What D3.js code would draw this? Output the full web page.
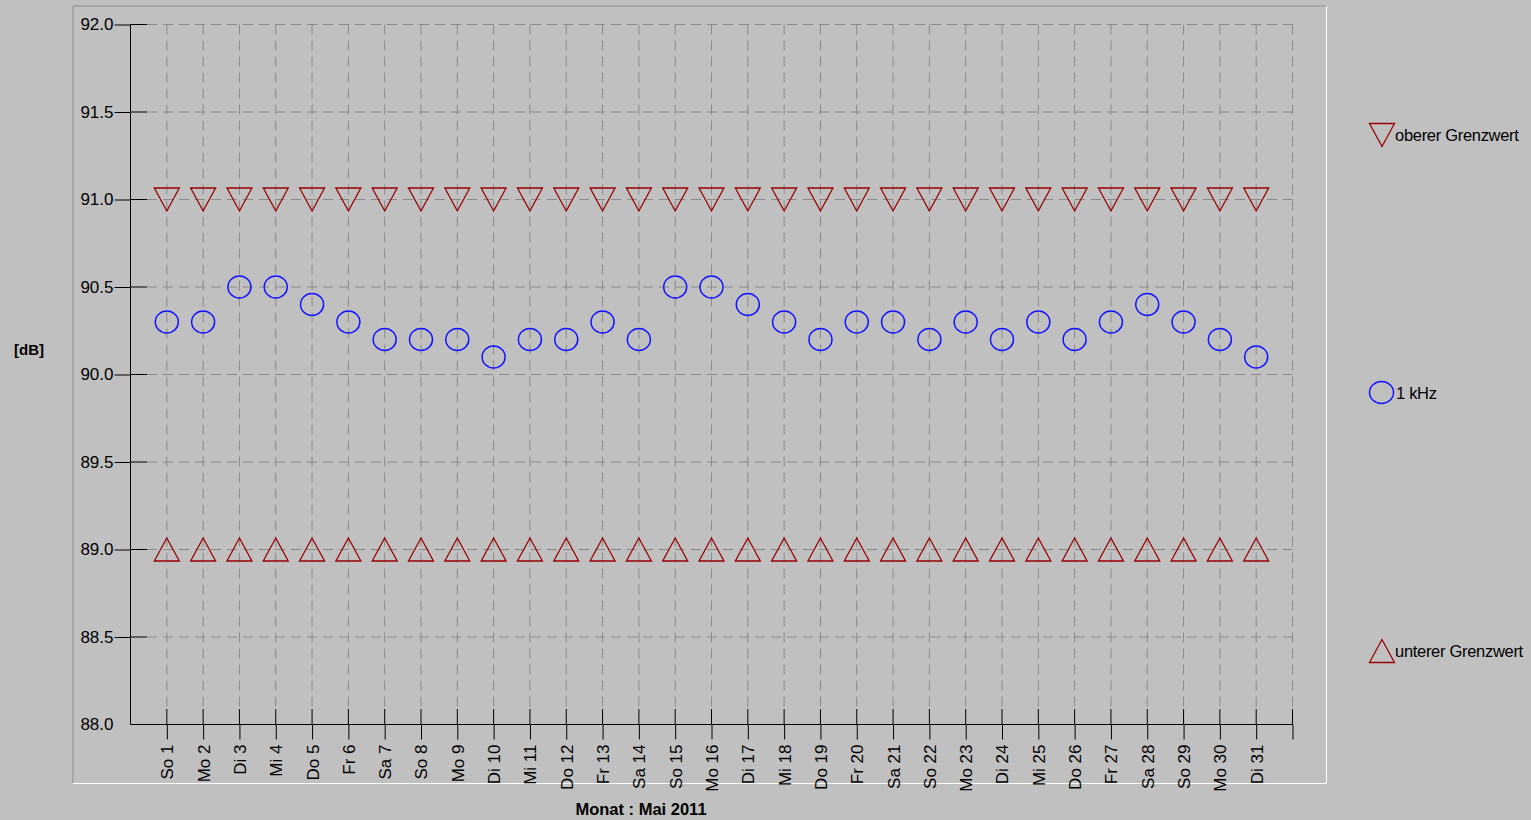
<!DOCTYPE html>
<html>
<head>
<meta charset="utf-8">
<script src="https://cdn.jsdelivr.net/npm/d3@7"></script>
<style>
  body { margin: 0; background: #c0c0c0; }
  svg { display: block; font-family: "Liberation Sans", Arial, sans-serif; }
</style>
</head>
<body>
<div id="chart"></div>
<script>
var width = 1531;
var height = 820;

// data
var days = d3.range(1, 32);
var dayLabels = ["So 1", "Mo 2", "Di 3", "Mi 4", "Do 5", "Fr 6", "Sa 7", "So 8", "Mo 9", "Di 10",
  "Mi 11", "Do 12", "Fr 13", "Sa 14", "So 15", "Mo 16", "Di 17", "Mi 18", "Do 19", "Fr 20",
  "Sa 21", "So 22", "Mo 23", "Di 24", "Mi 25", "Do 26", "Fr 27", "Sa 28", "So 29", "Mo 30", "Di 31"];
var kHz1 = [90.3, 90.3, 90.5, 90.5, 90.4, 90.3, 90.2, 90.2, 90.2, 90.1,
  90.2, 90.2, 90.3, 90.2, 90.5, 90.5, 90.4, 90.3, 90.2, 90.3,
  90.3, 90.2, 90.3, 90.2, 90.3, 90.2, 90.3, 90.4, 90.3, 90.2, 90.1];
var obererGrenzwert = days.map(function () { return 91.0; });
var untererGrenzwert = days.map(function () { return 89.0; });
var yTicks = [88.0, 88.5, 89.0, 89.5, 90.0, 90.5, 91.0, 91.5, 92.0];
var legendItems = ["oberer Grenzwert", "1 kHz", "unterer Grenzwert"];

var svg = d3.select("#chart").append("svg")
  .attr("width", width)
  .attr("height", height);

// 3d frame
var frame = svg.append("g");
frame.append("line").attr("x1", 73).attr("y1", 6).attr("x2", 1326).attr("y2", 6).attr("stroke", "#8c8c8c");
frame.append("line").attr("x1", 73).attr("y1", 6).attr("x2", 73).attr("y2", 783).attr("stroke", "#8c8c8c");
frame.append("line").attr("x1", 73).attr("y1", 783.5).attr("x2", 1326.5).attr("y2", 783.5).attr("stroke", "#ffffff");
frame.append("line").attr("x1", 1326.5).attr("y1", 6).attr("x2", 1326.5).attr("y2", 783.5).attr("stroke", "#ffffff");

var x = d3.scaleLinear().domain([0, 32]).range([130.5, 1292.5]);
var y = d3.scaleLinear().domain([88, 92]).range([724.5, 24.5]);

var gridColor = "#8a8a8a";

// horizontal grid
svg.append("g").selectAll("line")
  .data(yTicks.slice(1))
  .enter().append("line")
  .attr("x1", 147).attr("x2", x(32))
  .attr("y1", function (d) { return y(d); })
  .attr("y2", function (d) { return y(d); })
  .attr("stroke", gridColor)
  .attr("stroke-dasharray", "10,6");

// vertical grid
svg.append("g").selectAll("line")
  .data(d3.range(1, 33))
  .enter().append("line")
  .attr("x1", function (d) { return x(d); })
  .attr("x2", function (d) { return x(d); })
  .attr("y1", y(92)).attr("y2", 709)
  .attr("stroke", gridColor)
  .attr("stroke-dasharray", "10,6");

// y axis
var axisY = d3.axisLeft(y).tickValues(yTicks).tickSize(16).tickPadding(1)
  .tickFormat(d3.format(".1f"));
var gy = svg.append("g").attr("transform", "translate(130.5,0)").call(axisY);
gy.select(".domain").remove();
gy.selectAll("text").attr("font-size", 17).attr("fill", "#000").attr("font-family", "Liberation Sans, Arial, sans-serif");
gy.selectAll("line").attr("stroke", "#000");
gy.selectAll(".tick").filter(function (d) { return d === 88; }).select("line").remove();
// inner part of the y ticks
svg.append("g").selectAll("line")
  .data(yTicks.slice(1))
  .enter().append("line")
  .attr("x1", 130.5).attr("x2", 147)
  .attr("y1", function (d) { return y(d); })
  .attr("y2", function (d) { return y(d); })
  .attr("stroke", "#000");

svg.append("line")
  .attr("x1", 130.5).attr("x2", 130.5)
  .attr("y1", y(92)).attr("y2", y(88))
  .attr("stroke", "#000");

// x axis
var axisX = d3.axisBottom(x).tickValues(d3.range(1, 33)).tickSize(15)
  .tickFormat(function (d) { return d <= 31 ? dayLabels[d - 1] : ""; });
var gx = svg.append("g").attr("transform", "translate(0," + y(88) + ")").call(axisX);
gx.select(".domain").remove();
gx.selectAll("line").attr("stroke", "#000");
gx.selectAll("text")
  .attr("font-size", 17).attr("fill", "#000").attr("font-family", "Liberation Sans, Arial, sans-serif")
  .attr("transform", "rotate(-90)")
  .attr("text-anchor", "end")
  .attr("x", -20).attr("y", 0).attr("dy", "0.35em");
// upper part of the x ticks
svg.append("g").selectAll("line")
  .data(d3.range(1, 33))
  .enter().append("line")
  .attr("x1", function (d) { return x(d); })
  .attr("x2", function (d) { return x(d); })
  .attr("y1", 709).attr("y2", y(88))
  .attr("stroke", "#000");
svg.append("line")
  .attr("x1", 130.5).attr("x2", x(32))
  .attr("y1", y(88)).attr("y2", y(88))
  .attr("stroke", "#000");

// markers
var red = "#990000";
var blue = "#1414ff";
var hw = 12.5, hh = 11.5;
function downTri(cx, cy) {
  return "M" + (cx - hw) + "," + (cy - hh) + "L" + (cx + hw) + "," + (cy - hh) + "L" + cx + "," + (cy + hh) + "Z";
}
function upTri(cx, cy) {
  return "M" + (cx - hw) + "," + (cy + hh) + "L" + (cx + hw) + "," + (cy + hh) + "L" + cx + "," + (cy - hh) + "Z";
}

svg.append("g").selectAll("path")
  .data(obererGrenzwert)
  .enter().append("path")
  .attr("d", function (d, i) { return downTri(x(days[i]), y(d)); })
  .attr("fill", "none").attr("stroke", red).attr("stroke-width", 1.3);

svg.append("g").selectAll("path")
  .data(untererGrenzwert)
  .enter().append("path")
  .attr("d", function (d, i) { return upTri(x(days[i]), y(d)); })
  .attr("fill", "none").attr("stroke", red).attr("stroke-width", 1.3);

svg.append("g").selectAll("ellipse")
  .data(kHz1)
  .enter().append("ellipse")
  .attr("cx", function (d, i) { return x(days[i]); })
  .attr("cy", function (d) { return y(d); })
  .attr("rx", 11.5).attr("ry", 11)
  .attr("fill", "none").attr("stroke", blue).attr("stroke-width", 1.5);

// axis titles
svg.append("text").attr("x", 14).attr("y", 355)
  .attr("font-size", 15).attr("font-weight", "bold").text("[dB]");
svg.append("text").attr("x", 641).attr("y", 815)
  .attr("text-anchor", "middle")
  .attr("font-size", 16.5).attr("font-weight", "bold").text("Monat : Mai 2011");

// legend
var lg = svg.append("g");
lg.append("path").attr("d", downTri(1382, 135)).attr("fill", "none").attr("stroke", red).attr("stroke-width", 1.3);
lg.append("ellipse").attr("cx", 1381.5).attr("cy", 392.5).attr("rx", 12).attr("ry", 11)
  .attr("fill", "none").attr("stroke", blue).attr("stroke-width", 1.5);
lg.append("path").attr("d", upTri(1382, 651)).attr("fill", "none").attr("stroke", red).attr("stroke-width", 1.3);
var legendPos = [[1395, 141], [1396, 398.5], [1395, 657]];
lg.selectAll("text")
  .data(legendItems)
  .enter().append("text")
  .attr("x", function (d, i) { return legendPos[i][0]; })
  .attr("y", function (d, i) { return legendPos[i][1]; })
  .attr("font-size", 16.5)
  .attr("letter-spacing", -0.3)
  .attr("fill", "#000")
  .text(function (d) { return d; });
</script>
</body>
</html>
